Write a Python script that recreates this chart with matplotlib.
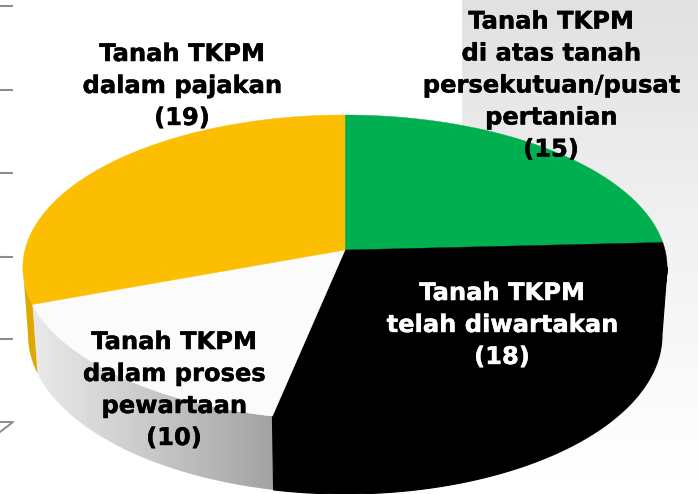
import numpy as np
import matplotlib
matplotlib.use("Agg")
import matplotlib.pyplot as plt
import matplotlib.patheffects as pe
from matplotlib.patches import Polygon
from matplotlib.colors import LinearSegmentedColormap

# data
categories = ["Tanah TKPM\ndi atas tanah\npersekutuan/pusat\npertanian\n(15)",
              "Tanah TKPM\ntelah diwartakan\n(18)",
              "Tanah TKPM\ndalam proses\npewartaan\n(10)",
              "Tanah TKPM\ndalam pajakan\n(19)"]
values = [15, 18, 10, 19]
colors = ["#00B050", "#000000", "#FBFBFB", "#FCBE00"]
text_colors = ["#000000", "#FFFFFF", "#000000", "#000000"]
label_xy = [(551, 85.5), (502, 325), (174, 390), (182, 86)]

W, H = 698, 494
fig = plt.figure(figsize=(W / 100, H / 100), dpi=100)
ax = fig.add_axes([0, 0, 1, 1])
ax.axis("off")

# background gradient panel
bg = LinearSegmentedColormap.from_list("bg", [(0, "#E1E1E1"), (0.53, "#F3F3F3"), (1, "#FFFFFF")])
ax.imshow(np.linspace(0, 1, 256)[:, None], cmap=bg, extent=(462, W, 480, 0),
          aspect="auto", zorder=0)

# decorative tick marks left of the pie
for y in [6, 90, 173, 257, 339]:
    ax.plot([0, 13], [y, y], color="#8C8C8C", lw=1.5, zorder=1, solid_capstyle="butt")
ax.plot([0, 13, 0], [422, 422, 432], color="#8C8C8C", lw=1.4, zorder=1)

# perspective projection of a tilted disc
CX, CY, A, B, K = 345, 250, 320, 150.5, 0.1147


def top(theta):
    u, v = np.cos(theta), np.sin(theta)
    w = 1 + K * v
    return CX + A * u / w, CY - B * v / w


def bottom(theta):
    x, y = top(theta)
    return CX + (x - CX) * 0.984, y + 66.7 + (y - CY) * 0.043


def wall_polygon(t0, t1, **kw):
    t = np.linspace(t0, t1, 300)
    tx, ty = top(t)
    bx, by = bottom(t)
    return Polygon(np.r_[np.c_[tx, ty], np.c_[bx, by][::-1]], closed=True, **kw), tx, ty, by


fracs = np.array(values) / sum(values)
edges = np.pi / 2 - 2 * np.pi * np.concatenate([[0], np.cumsum(fracs)])

# silhouette angles: where the rim is widest
scan = np.linspace(-np.pi / 2, 0, 2000)
right_ext = scan[np.argmax(top(scan)[0])]
left_ext = -np.pi - right_ext

# side walls
p, tx, ty, by = wall_polygon(edges[3], edges[2], fc="none", ec="none", zorder=2)
ax.add_patch(p)
grad = LinearSegmentedColormap.from_list("wall", ["#EAEAEA", "#C8C8C8", "#A2A2A2"])
im = ax.imshow(np.linspace(0, 1, 256)[None, :], cmap=grad,
               extent=(tx.min(), tx.max() + 3, by.max(), ty.min()), aspect="auto", zorder=2)
im.set_clip_path(p)

p, *_ = wall_polygon(edges[2], right_ext, fc="#000000", ec="#000000", lw=0.8, zorder=2.5)
ax.add_patch(p)

p, *_ = wall_polygon(left_ext, edges[3], fc="#DFA800", ec="none", zorder=2)
ax.add_patch(p)

# top surface
for i, c in enumerate(colors):
    t = np.linspace(edges[i], edges[i + 1], 200)
    x, y = top(t)
    ax.add_patch(Polygon(np.r_[[[CX, CY]], np.c_[x, y]], closed=True, fc=c, ec=c, lw=0.3, zorder=3))

ax.set_xlim(0, W)
ax.set_ylim(H, 0)

# labels
for lab, (x, y), c in zip(categories, label_xy, text_colors):
    ax.text(x, y, lab, ha="center", va="center", ma="center", color=c,
            fontsize=17.4, fontweight="bold", family="DejaVu Sans",
            linespacing=1.42, zorder=5,
            path_effects=[pe.withStroke(linewidth=0.3, foreground=c)])

fig.savefig("out.png", dpi=100)
